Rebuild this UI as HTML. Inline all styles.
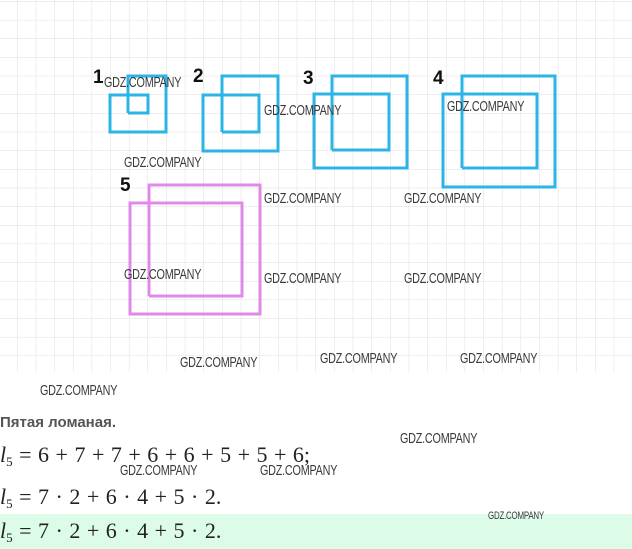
<!DOCTYPE html>
<html><head><meta charset="utf-8"><style>
html,body{margin:0;padding:0;background:#fff;width:632px;height:549px;overflow:hidden;position:relative}
.wm{position:absolute;font-family:"Liberation Sans",sans-serif;font-size:15px;color:#3a3a3a;transform:scaleX(0.72);transform-origin:0 0;white-space:nowrap;letter-spacing:-0.3px}
.m{position:absolute;left:0;font-family:"Liberation Serif",serif;font-size:22px;color:#222;white-space:nowrap;word-spacing:1px}
.m i{font-style:italic}
.m sub{font-size:13px;vertical-align:-4px}
</style></head><body>
<svg width="632" height="372" style="position:absolute;left:0;top:0">
<defs><pattern id="g" x="17" y="1.2" width="18.65" height="18.65" patternUnits="userSpaceOnUse">
<path d="M0 0H18.65M0 0V18.65" stroke="#dedede" stroke-width="1" fill="none"/></pattern></defs>
<rect width="632" height="372" fill="url(#g)"/>
<g fill="none" stroke="#2cb4e6" stroke-width="3">
<polyline points="128,113 128,76 166,76 166,132 110,132 110,95 148,95 148,113 128,113"/>
<polyline points="222,132 222,76 278,76 278,151 203,151 203,95 259,95 259,132 222,132"/>
<polyline points="332,150 332,76 407,76 407,168 314,168 314,94 389,94 389,150 332,150"/>
<polyline points="462,168 462,76 555,76 555,187 443,187 443,94 537,94 537,168 462,168"/>
</g>
<polyline fill="none" stroke="#e08ae8" stroke-width="3" points="149,296 149,185 260,185 260,314 130,314 130,203 242,203 242,296 149,296"/>
<g font-family="Liberation Sans,sans-serif" font-weight="bold" font-size="19" fill="#111">
<text x="93" y="83">1</text><text x="193" y="82">2</text><text x="303" y="84">3</text><text x="433" y="84">4</text><text x="120" y="191">5</text>
</g>
</svg>
<div class="wm" style="left:104px;top:74px">GDZ.COMPANY</div>
<div class="wm" style="left:264px;top:102px">GDZ.COMPANY</div>
<div class="wm" style="left:447px;top:98px">GDZ.COMPANY</div>
<div class="wm" style="left:124px;top:154px">GDZ.COMPANY</div>
<div class="wm" style="left:264px;top:190px">GDZ.COMPANY</div>
<div class="wm" style="left:404px;top:190px">GDZ.COMPANY</div>
<div class="wm" style="left:124px;top:266px">GDZ.COMPANY</div>
<div class="wm" style="left:264px;top:270px">GDZ.COMPANY</div>
<div class="wm" style="left:404px;top:270px">GDZ.COMPANY</div>
<div class="wm" style="left:180px;top:354px">GDZ.COMPANY</div>
<div class="wm" style="left:320px;top:350px">GDZ.COMPANY</div>
<div class="wm" style="left:460px;top:350px">GDZ.COMPANY</div>
<div class="wm" style="left:40px;top:382px">GDZ.COMPANY</div>
<div style="position:absolute;left:0;top:414px;font-family:'Liberation Sans',sans-serif;font-size:15px;font-weight:bold;color:#555">Пятая ломаная.</div>
<div class="wm" style="left:400px;top:430px">GDZ.COMPANY</div>
<div class="m" style="top:442px"><i>l</i><sub>5</sub> = 6 + 7 + 7 + 6 + 6 + 5 + 5 + 6;</div>
<div class="wm" style="left:120px;top:462px">GDZ.COMPANY</div>
<div class="wm" style="left:260px;top:462px">GDZ.COMPANY</div>
<div class="m" style="top:484px"><i>l</i><sub>5</sub> = 7 · 2 + 6 · 4 + 5 · 2.</div>
<div style="position:absolute;left:0;top:514px;width:632px;height:35px;background:#dcfbe8"></div>
<div class="wm" style="left:488px;top:510px;font-size:11px">GDZ.COMPANY</div>
<div class="m" style="top:518px"><i>l</i><sub>5</sub> = 7 · 2 + 6 · 4 + 5 · 2.</div>
</body></html>
